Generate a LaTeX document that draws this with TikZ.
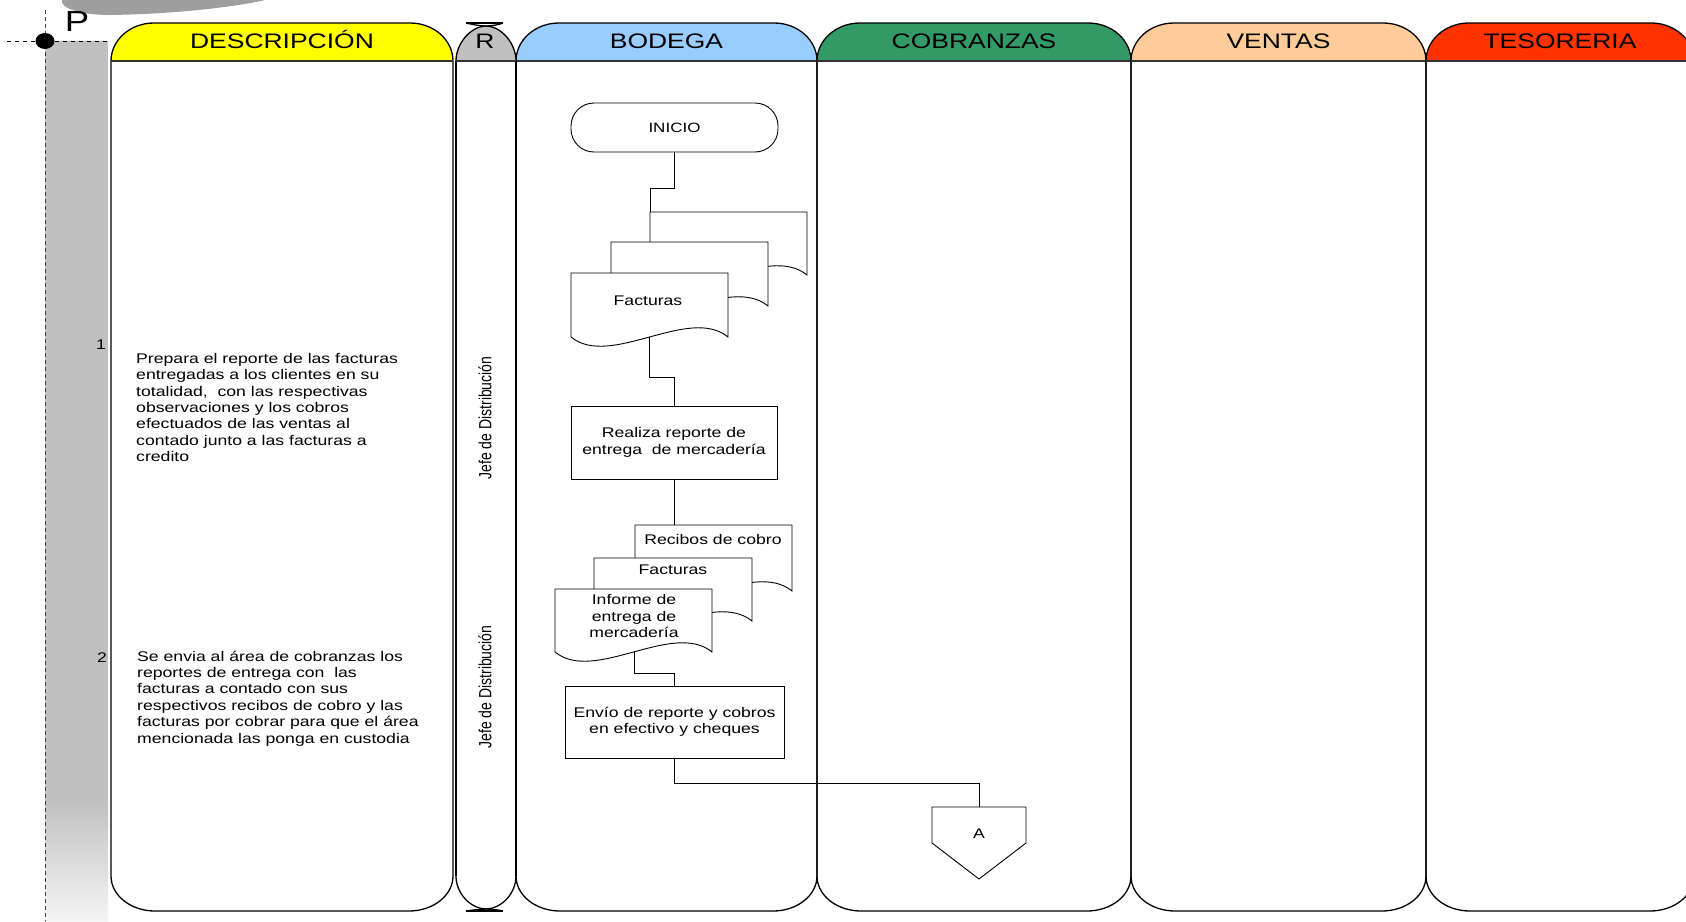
\documentclass[tikz,border=0pt]{standalone}
\usepackage{fontspec}
\setmainfont{Liberation Sans}[FakeStretch=1.26]
\newfontfamily\plainsans{Liberation Sans}
\usetikzlibrary{calc}

\definecolor{hdryellow}{HTML}{FFFF00}
\definecolor{hdrgray}{HTML}{C0C0C0}
\definecolor{hdrblue}{HTML}{99CCFF}
\definecolor{hdrgreen}{HTML}{339966}
\definecolor{hdrpeach}{HTML}{FFCC99}
\definecolor{hdrred}{HTML}{FF3300}
\definecolor{bandgray}{HTML}{C0C0C0}
\definecolor{swooshgray}{HTML}{9E9E9E}
\definecolor{rulegray}{HTML}{333333}

% swimlane outline: header corners and bottom corners are quarter ellipses
\newcommand\lanepath[2]{%
  (#1,61) .. controls (#1,{61-0.552*38}) and ({#1+43-0.552*43},23) .. ({#1+43},23)
  -- ({#2-43},23) .. controls ({#2-43+0.552*43},23) and (#2,{61-0.552*38}) .. (#2,61)
  -- (#2,876) .. controls (#2,{876+0.552*35}) and ({#2-44+0.552*44},911) .. ({#2-44},911)
  -- ({#1+44},911) .. controls ({#1+44-0.552*44},911) and (#1,{876+0.552*35}) .. (#1,876)
  -- cycle}

% lane with coloured header band
\newcommand\swimlane[3]{%
  \begin{scope}
    \clip \lanepath{#1}{#2};
    \fill[#3] (#1,0) rectangle (#2,61);
  \end{scope}
  \draw[laneline] \lanepath{#1}{#2};
  \draw[line width=1.5pt,rulegray] (#1,61) -- (#2,61);
}

% document symbol: left, top, width, height
\newcommand\docshape[4]{%
  \draw[flowline,fill=white] (#1,#2) -- ({#1+#3},#2) -- ({#1+#3},{#2+#4})
    .. controls ({#1+0.75*#3},{#2+#4-32}) and ({#1+0.25*#3},{#2+#4+32}) .. (#1,{#2+#4})
    -- cycle;
}

\begin{document}
\begin{tikzpicture}[x=1pt,y=-1pt,
  laneline/.style={draw=black,line width=1.3pt},
  flowline/.style={draw=black,line width=0.9pt},
  connline/.style={draw=black,line width=0.9pt},
  hdrtext/.style={font=\fontsize{21}{21}\selectfont,inner sep=0pt,anchor=base},
  desctext/.style={font=\fontsize{14}{16.4}\selectfont,inner sep=0pt,align=left},
  smalltext/.style={font=\fontsize{14}{16.4}\selectfont,inner sep=0pt,align=center},
  procbox/.style={flowline,fill=white,rectangle,align=center,
    font=\fontsize{14}{16.4}\selectfont,inner sep=0pt},
  roletext/.style={rotate=90,inner sep=0pt}]

\useasboundingbox (0,0) rectangle (1686,921);
\clip (0,0) rectangle (1686,921);

% phase band on the left
\fill[swooshgray] (62,0) .. controls (60,8) and (80,15) .. (110,15)
  .. controls (180,14) and (240,6) .. (265,0) -- cycle;
\fill[bandgray] (45,41) rectangle (108,800);
\shade[top color=bandgray,bottom color=black!4] (45,800) rectangle (108,921);
\draw[black!75,line width=1pt,dash pattern=on 4pt off 3pt] (45,10) -- (45,921);
\draw[black,line width=1pt,dash pattern=on 4pt off 4pt] (7,41) -- (108,41);
\fill[black] (45,41) ellipse [x radius=9.5, y radius=8];
\node[font=\fontsize{29}{29}\selectfont,inner sep=0pt,anchor=base] (plabel) at (77,31) {P};

% swimlanes
\swimlane{111}{453}{hdryellow}
\swimlane{516}{817}{hdrblue}
\swimlane{817}{1131}{hdrgreen}
\swimlane{1131}{1426}{hdrpeach}
\swimlane{1426}{1694}{hdrred}

% responsible column with pointed ends
\fill[hdrgray] (456,61) .. controls (456,44) and (470,26.5) .. (486,26)
  .. controls (502,26.5) and (516,44) .. (516,61) -- cycle;
\draw[laneline] (456,61) .. controls (456,44) and (470,26.5) .. (486,26)
  .. controls (494,25.8) and (499,24.5) .. (503,23);
\draw[laneline] (516,61) .. controls (516,44) and (502,26.5) .. (486,26)
  .. controls (478,25.8) and (473,24.5) .. (466,23);
\draw[laneline] (466,23) -- (503,23);
\draw[laneline] (456,61) -- (456,876);
\draw[laneline] (516,61) -- (516,876);
\draw[laneline] (456,876) .. controls (456,893) and (470,908.5) .. (486,909)
  .. controls (494,909.3) and (499,910) .. (503,911);
\draw[laneline] (516,876) .. controls (516,893) and (502,908.5) .. (486,909)
  .. controls (478,909.3) and (473,910) .. (466,911);
\draw[laneline] (466,911) -- (503,911);
\draw[line width=1.5pt,rulegray] (456,61) -- (516,61);

% lane titles
\node[hdrtext] (tdesc) at (282,48.5) {DESCRIPCIÓN};
\node[hdrtext] (tresp) at (485,48.5) {R};
\node[hdrtext] (tbod) at (666.5,48.5) {BODEGA};
\node[hdrtext] (tcob) at (974,48.5) {COBRANZAS};
\node[hdrtext] (tven) at (1278.5,48.5) {VENTAS};
\node[hdrtext] (ttes) at (1560,48.5) {TESORERIA};

% step numbers and descriptions
\node[smalltext] (n1) at (101,345) {1};
\node[smalltext] (n2) at (102,658) {2};
\node[desctext,anchor=north west] (desc1) at (136,353)
  {Prepara el reporte de las facturas\\entregadas a los clientes en su\\totalidad, \ con las respectivas\\observaciones y los cobros\\efectuados de las ventas al\\contado junto a las facturas a\\credito};
\node[desctext,anchor=north west] (desc2) at (137,650.5)
  {Se envia al área de cobranzas los\\reportes de entrega con \ las\\facturas a contado con sus\\respectivos recibos de cobro y las\\facturas por cobrar para que el área\\mencionada las ponga en custodia};

% responsible
\node[roletext] (resp1) at (485,418)
  {\scalebox{1}[1.26]{\plainsans\fontsize{14}{14}\selectfont Jefe de Distribución}};
\node[roletext] (resp2) at (485,687)
  {\scalebox{1}[1.26]{\plainsans\fontsize{14}{14}\selectfont Jefe de Distribución}};

% ---- BODEGA flow ----
\node[flowline,rectangle,rounded corners=23pt,minimum width=207pt,minimum height=49pt,
  font=\fontsize{13.5}{14}\selectfont] (inicio) at (674.5,127.5) {INICIO};

% stacked invoices
\docshape{650}{212}{157}{63}
\docshape{611}{242}{157}{64}
\docshape{571}{273}{157}{64}
\coordinate (stackin) at (650,212);
\coordinate (stackout) at (649,337);
\node[smalltext] (fact1) at (648,301) {Facturas};

\node[procbox,minimum width=206pt,minimum height=73pt] (realiza) at (674,442.5)
  {Realiza reporte de\\entrega \ de mercadería};

% stacked delivery documents
\docshape{635}{525}{157}{66}
\docshape{594}{558}{158}{63}
\docshape{555}{589}{157}{63}
\coordinate (docsin) at (674,525);
\coordinate (docsout) at (634,652);
\node[smalltext] (recibos) at (713,539) {Recibos de cobro};
\node[smalltext] (fact2) at (673,570) {Facturas};
\node[smalltext] (informe) at (634,616) {Informe de\\entrega de\\mercadería};

\node[procbox,minimum width=219pt,minimum height=72pt] (envio) at (674.5,722)
  {Envío de reporte y cobros\\en efectivo y cheques};

% off-page connector
\draw[flowline,fill=white] (932,807) -- (1026,807) -- (1026,843) -- (979,879) -- (932,843) -- cycle;
\coordinate (offin) at (979,807);
\node[smalltext] (offA) at (979,834) {A};

% connectors
\draw[connline] (inicio.south) -- ++(0,35.5) -| (stackin);
\draw[connline] (stackout) -- ++(0,40) -| (realiza.north);
\draw[connline] (realiza.south) -- (docsin);
\draw[connline] (docsout) -- ++(0,21) -| (envio.north);
\draw[connline] (envio.south) -- ++(0,25) -| (offin);

\end{tikzpicture}
\end{document}
